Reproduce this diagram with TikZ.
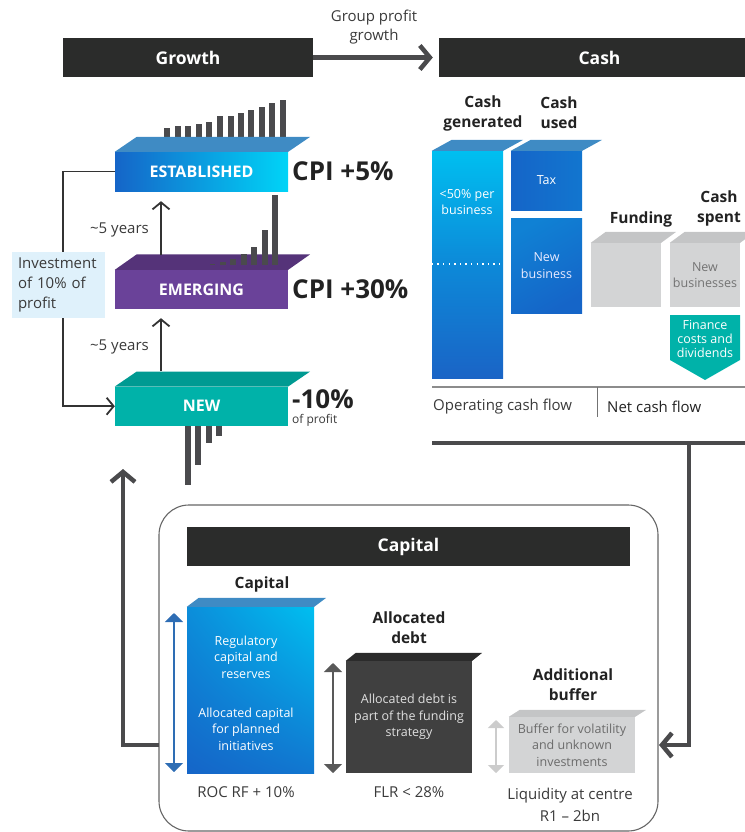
\documentclass[tikz,border=0pt]{standalone}
\usepackage{fontspec}
\setmainfont{Open Sans}
\usetikzlibrary{arrows.meta,calc,shadings}

\definecolor{barblack}{HTML}{2B2C2B}
\definecolor{arrowgray}{HTML}{4A4A4C}
\definecolor{linedark}{HTML}{333333}
\definecolor{headtext}{HTML}{222222}
\definecolor{bodytext}{HTML}{3A3A3A}
\definecolor{estL}{HTML}{1565C8}
\definecolor{estR}{HTML}{00D4F7}
\definecolor{blueTop}{HTML}{3F8BC4}
\definecolor{emFront}{HTML}{6A4299}
\definecolor{emTop}{HTML}{553379}
\definecolor{newFront}{HTML}{00B2A9}
\definecolor{newTop}{HTML}{009A92}
\definecolor{stick}{HTML}{4A4A4D}
\definecolor{infoBlue}{HTML}{DFF1FB}
\definecolor{cyanTop}{HTML}{00BFF0}
\definecolor{blueDeep}{HTML}{1A64C6}
\definecolor{greyFront}{HTML}{D3D4D5}
\definecolor{greyTop}{HTML}{C4C5C6}
\definecolor{debtFront}{HTML}{404040}
\definecolor{debtTop}{HTML}{2B2B2B}
\definecolor{capBlue}{HTML}{2E6DB4}

% top face of a box drawn as a node: offset (#2,#3) gives the depth
\newcommand\prismtop[4]{\fill[#4] (#1.north west) -- ++(#2,#3) -- ($(#1.north east)+(#2,#3)$) -- (#1.north east) -- cycle;}

\begin{document}
\begin{tikzpicture}[x=1pt,y=-1pt,
  every node/.style={inner sep=0pt, align=center},
  titlebar/.style={fill=barblack, text=white, font=\bfseries\fontsize{17.5}{20}\selectfont, minimum height=39},
  tierbox/.style={minimum width=173, minimum height=39, text=white, font=\bfseries\fontsize{16}{18}\selectfont},
  bigarrow/.style={draw=arrowgray, line width=4.5pt, -{Straight Barb[length=10pt,width=24pt]}},
  thinarr/.style={draw=linedark, line width=1.8pt, -{Straight Barb[length=7pt,width=17pt]}},
  heading/.style={font=\bfseries\fontsize{15.5}{20}\selectfont, text=headtext},
  small/.style={font=\fontsize{12.5}{16.5}\selectfont},
  body/.style={font=\fontsize{15}{22}\selectfont, text=bodytext},
  bigfig/.style={font=\bfseries\fontsize{26}{28}\selectfont, text=headtext, anchor=west},
  dblarrow/.style={line width=1.5pt, {Triangle[length=9pt,width=18pt]}-{Triangle[length=9pt,width=18pt]}},
]
\useasboundingbox (0,0) rectangle (744,832);

% ---------- title bars ----------
\node[titlebar, minimum width=250] (growth) at (188,57.5) {Growth};
\node[titlebar, minimum width=321] (cash) at (599.5,57.5) {Cash};
\node[font=\fontsize{15}{19.5}\selectfont, text=bodytext] (gpg) at (374,27) {Group profit\\growth};
\draw[bigarrow, shorten >=6pt] (growth.east) -- (cash.west);

% ---------- growth tiers ----------
% sticks above ESTABLISHED
\foreach \x/\t in {164/128.3,175/126,185/126,196/124,206/122,217/116,227.7/116,238/113,248.3/110,259/107,269.3/103.3,280/100}
  \fill[stick] (\x,137) rectangle (\x+6,\t);

\node[tierbox, left color=estL, right color=estR] (est) at (201.5,171.5) {ESTABLISHED};
\prismtop{est}{22}{-15}{blueTop}

\node[tierbox, fill=emFront] (em) at (201.5,289.5) {EMERGING};
\prismtop{em}{22}{-15.5}{emTop}
% sticks on EMERGING
\fill[stick] (209.5,263.5) rectangle (215,265);
\foreach \x/\t in {220/261.7,230/259.3,241/254,251/246.7,262/230,272/195}
  \fill[stick] (\x,265) rectangle (\x+6,\t);

\node[tierbox, fill=newFront] (new) at (201.5,406.2) {NEW};
\prismtop{new}{22}{-15}{newTop}
% sticks below NEW
\foreach \x/\b in {185/485,195/465,206/443,216/435.7}
  \fill[stick] (\x,425.7) rectangle (\x+6,\b);

\node[bigfig] (cpi5) at (292,171) {CPI +5\%};
\node[bigfig] (cpi30) at (292,289) {CPI +30\%};
\node[bigfig] (minus10) at (292,399) {-10\%};
\node[anchor=west, font=\fontsize{12}{13}\selectfont, text=bodytext] (ofprofit) at (292,420) {of profit};

% tier progression
\coordinate (emUp) at (161,254.5);
\coordinate (newUp) at (161,371.2);
\draw[thinarr, shorten >=10pt] (emUp) -- (emUp |- est.south);
\draw[thinarr, shorten >=9pt] (newUp) -- (newUp |- em.south);
\node[anchor=east, font=\fontsize{15}{17}\selectfont, text=bodytext] (yrs1) at (149,230) {\textasciitilde5 years};
\node[anchor=east, font=\fontsize{15}{17}\selectfont, text=bodytext] (yrs2) at (149,347) {\textasciitilde5 years};

% reinvestment loop
\draw[thinarr] (est.west) -- ++(-52,0) |- (new.west);
\node[fill=infoBlue, minimum width=93, minimum height=66, text width=81, align=left,
      font=\fontsize{15}{20}\selectfont, text=bodytext] (inv) at (58.5,285) {Investment\\of 10\% of\\profit};

% ---------- cash panel ----------
\node[heading] (hgen) at (483,113) {Cash\\generated};
\node[heading] (hused) at (559,113) {Cash\\used};
\node[heading] (hfund) at (641,219) {Funding};
\node[heading] (hspent) at (719,208) {Cash\\spent};

\node[minimum width=71, minimum height=227, top color=cyanTop, bottom color=blueDeep, middle color=estL!60!cyanTop] (cg) at (467.5,264.5) {};
\prismtop{cg}{20}{-11}{blueTop}
\draw[white, line width=1.4pt, dash pattern=on 1.4pt off 4.2pt] (cg.west |- 0,264) -- (cg.east |- 0,264);
\node[small, text=white] (cgtxt) at (467,202) {\textless50\% per\\business};

\node[minimum width=71, minimum height=59, left color=estL, right color=estL!85!estR, text=white, small] (tax) at (546.5,180.5) {Tax};
\prismtop{tax}{20}{-11}{blueTop}
\node[minimum width=71, minimum height=95, top color=estL!75!estR, bottom color=estL, shading angle=30, text=white!92!blue, small] (nb) at (546.5,265.5) {New\\business};

\node[minimum width=70, minimum height=64, fill=greyFront] (fund) at (626,275) {};
\prismtop{fund}{15}{-11}{greyTop}
\node[minimum width=70, minimum height=64, fill=greyFront, text=black!55, small] (spent) at (705,275) {New\\businesses};
\prismtop{spent}{15}{-11}{greyTop}

\fill[newFront] (670,315) -- (740,315) -- (740,360) -- (705,380) -- (670,360) -- cycle;
\node[small, text=white, font=\fontsize{12.5}{14}\selectfont] (fin) at (705,339) {Finance\\costs and\\dividends};

\draw[black!45, line width=1.5pt] (432,387) -- (760,387);
\draw[black!55, line width=1pt] (597,387) -- (597,417);
\node[body, anchor=west] (ocf) at (433,407) {Operating cash flow};
\node[body, anchor=west, text=headtext] (ncf) at (607,407) {Net cash flow};

\draw[arrowgray, line width=4.5pt] (432,443) -- (760,443);
\coordinate (cashDown) at (689,443);
\coordinate (capR) at (659,745);
\draw[bigarrow] (cashDown) |- (capR);

% ---------- capital panel ----------
\draw[black!60, line width=1.1pt, rounded corners=30pt] (159,505) rectangle (658,831);
\node[titlebar, minimum width=443] (capbar) at (408.5,546.5) {Capital};
\coordinate (capL) at (159,745);
\draw[bigarrow] (capL) -- (123,745) -- (123,469);

\node[heading] (hcap) at (262,584) {Capital};
\node[minimum width=127, minimum height=166, upper right=cyanTop, upper left=estL!55!cyanTop, lower left=estL, lower right=estL!80!cyanTop] (capbox) at (250.5,690) {};
\prismtop{capbox}{12}{-9}{blueTop}
\node[small, text=white] (reg) at (246,657) {Regulatory\\capital and\\reserves};
\node[small, text=white] (alloc) at (246,729) {Allocated capital\\for planned\\initiatives};
\draw[dblarrow, capBlue] (174,613) -- (174,772);
\node[body] (roc) at (246,792) {ROC RF + 10\%};

\node[heading] (hdebt) at (409,628) {Allocated\\debt};
\node[minimum width=126, minimum height=112, fill=debtFront, text=white!88!black, small] (debt) at (409,717) {Allocated debt is\\part of the funding\\strategy};
\prismtop{debt}{10}{-8}{debtTop}
\draw[dblarrow, black!65] (333,663) -- (333,773);
\node[body] (flr) at (409,792) {FLR \textless{} 28\%};

\node[heading] (hbuf) at (573,685) {Additional\\buffer};
\node[minimum width=126, minimum height=56, fill=greyFront, text=black!58, small] (buf) at (572,745) {Buffer for volatility\\and unknown\\investments};
\prismtop{buf}{11}{-7}{greyTop}
\draw[line width=1.5pt, black!20, {Triangle[length=8pt,width=16pt]}-{Triangle[length=8pt,width=16pt]}] (496,720) -- (496,773);
\node[body] (liq) at (570,805) {Liquidity at centre\\R1 – 2bn};

\end{tikzpicture}
\end{document}
